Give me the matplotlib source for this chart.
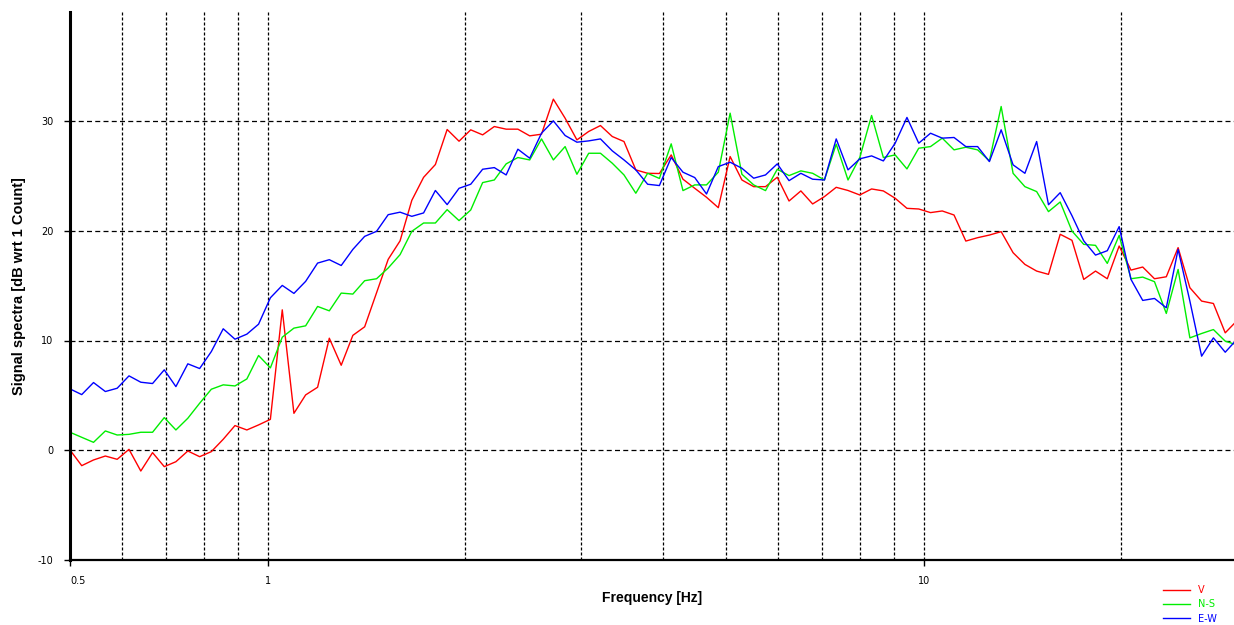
import matplotlib
matplotlib.use("Agg")
import matplotlib.pyplot as plt
from matplotlib.ticker import FixedLocator, NullFormatter

# log-sampled frequency grid (Hz)
freq_hz = [
    0.500, 0.521, 0.543, 0.566, 0.590, 0.615, 0.641, 0.668, 0.696, 0.725,
    0.756, 0.788, 0.821, 0.856, 0.892, 0.930, 0.969, 1.010, 1.053, 1.097,
    1.143, 1.192, 1.242, 1.295, 1.349, 1.406, 1.466, 1.527, 1.592, 1.659,
    1.729, 1.802, 1.878, 1.958, 2.040, 2.127, 2.216, 2.310, 2.407, 2.509,
    2.615, 2.726, 2.841, 2.961, 3.086, 3.216, 3.352, 3.493, 3.641, 3.795,
    3.955, 4.122, 4.296, 4.477, 4.666, 4.863, 5.069, 5.283, 5.506, 5.739,
    5.981, 6.233, 6.497, 6.771, 7.057, 7.355, 7.666, 7.989, 8.327, 8.678,
    9.045, 9.427, 9.825, 10.24, 10.67, 11.12, 11.59, 12.08, 12.59, 13.12,
    13.68, 14.26, 14.86, 15.49, 16.14, 16.82, 17.53, 18.27, 19.04, 19.85,
    20.69, 21.56, 22.47, 23.42, 24.41, 25.44, 26.51, 27.63, 28.80, 30.00,
]

# vertical component
spec_v = [
    0.00, -1.43, -0.91, -0.55, -0.85, 0.06, -1.92, -0.24, -1.52, -1.07,
    -0.09, -0.61, -0.15, 0.98, 2.23, 1.83, 2.29, 2.80, 12.80, 3.35,
    5.03, 5.73, 10.21, 7.74, 10.47, 11.25, 14.36, 17.41, 19.10, 22.80,
    24.90, 26.07, 29.27, 28.20, 29.24, 28.78, 29.54, 29.30, 29.30, 28.69,
    28.84, 32.04, 30.30, 28.32, 29.09, 29.63, 28.63, 28.17, 25.58, 25.27,
    25.25, 26.95, 24.73, 23.90, 23.08, 22.13, 26.80, 24.66, 24.05, 24.05,
    24.91, 22.74, 23.66, 22.47, 23.14, 23.99, 23.70, 23.29, 23.84, 23.66,
    22.99, 22.07, 22.01, 21.68, 21.83, 21.46, 19.08, 19.39, 19.63, 19.94,
    18.02, 16.95, 16.34, 16.04, 19.70, 19.15, 15.58, 16.34, 15.64, 18.63,
    16.43, 16.71, 15.64, 15.82, 18.48, 14.82, 13.60, 13.38, 10.70, 11.80,
]

# north-south component
spec_ns = [
    1.62, 1.16, 0.70, 1.74, 1.37, 1.43, 1.62, 1.62, 2.96, 1.83,
    2.90, 4.27, 5.55, 5.95, 5.85, 6.49, 8.63, 7.50, 10.30, 11.13,
    11.34, 13.11, 12.71, 14.33, 14.24, 15.46, 15.64, 16.62, 17.84, 19.97,
    20.73, 20.73, 21.95, 20.95, 21.92, 24.42, 24.66, 26.13, 26.71, 26.49,
    28.41, 26.49, 27.71, 25.18, 27.10, 27.10, 26.19, 25.12, 23.45, 25.27,
    24.80, 27.96, 23.69, 24.21, 24.21, 25.37, 30.76, 25.18, 24.21, 23.69,
    25.64, 25.06, 25.49, 25.27, 24.66, 27.93, 24.66, 26.71, 30.55, 26.71,
    26.95, 25.67, 27.56, 27.71, 28.48, 27.41, 27.65, 27.41, 26.40, 31.37,
    25.27, 24.05, 23.60, 21.77, 22.65, 20.00, 18.78, 18.69, 17.04, 19.60,
    15.64, 15.79, 15.37, 12.47, 16.49, 10.24, 10.64, 11.00, 9.94, 9.60,
]

# east-west component
spec_ew = [
    5.58, 5.06, 6.16, 5.34, 5.64, 6.77, 6.19, 6.07, 7.32, 5.79,
    7.87, 7.44, 8.99, 11.07, 10.12, 10.58, 11.49, 13.90, 15.03, 14.30,
    15.40, 17.07, 17.38, 16.85, 18.32, 19.51, 19.97, 21.49, 21.72, 21.34,
    21.65, 23.70, 22.41, 23.90, 24.27, 25.64, 25.79, 25.12, 27.47, 26.65,
    28.93, 30.06, 28.72, 28.11, 28.23, 28.41, 27.32, 26.49, 25.58, 24.27,
    24.15, 26.71, 25.37, 24.88, 23.38, 25.88, 26.28, 25.73, 24.82, 25.12,
    26.13, 24.60, 25.27, 24.73, 24.66, 28.41, 25.58, 26.59, 26.86, 26.40,
    28.02, 30.37, 28.02, 28.93, 28.48, 28.54, 27.71, 27.71, 26.34, 29.24,
    26.04, 25.27, 28.17, 22.40, 23.50, 21.40, 19.10, 17.80, 18.20, 20.40,
    15.58, 13.66, 13.84, 12.99, 18.32, 13.60, 8.57, 10.24, 8.93, 10.10,
]

series = [
    ("V", spec_v, "#ff0000"),
    ("N-S", spec_ns, "#00ee00"),
    ("E-W", spec_ew, "#0000ff"),
]

x_major = [0.5, 1, 10]
x_major_labels = ["0.5", "1", "10"]
x_minor = [0.6, 0.7, 0.8, 0.9, 2, 3, 4, 5, 6, 7, 8, 9, 20]
y_ticks = [-10, 0, 10, 20, 30]

fig = plt.figure(figsize=(12.34, 6.25), dpi=100)
ax = fig.add_axes([70 / 1234, 1 - 559.5 / 625, 1 - 70 / 1234, 547.5 / 625])

handles = []
for label, values, color in series:
    (line,) = ax.plot(freq_hz, values, color=color, lw=1.0, label=label)
    handles.append(line)

ax.set_xscale("log")
ax.set_xlim(0.5, 29.7)
ax.set_ylim(-10, 40)

ax.xaxis.set_major_locator(FixedLocator(x_major))
ax.set_xticklabels(x_major_labels)
ax.xaxis.set_minor_locator(FixedLocator(x_minor))
ax.xaxis.set_minor_formatter(NullFormatter())
ax.set_yticks(y_ticks)
ax.set_yticklabels([str(v) for v in y_ticks])

ax.tick_params(axis="both", which="major", labelsize=7, length=4, width=1,
               direction="out", pad=8)
ax.tick_params(axis="x", which="minor", length=0)
ax.get_xticklabels()[0].set_horizontalalignment("left")

# dashed horizontal grid, finer dotted verticals
ax.grid(True, axis="y", which="major", color="black", lw=0.9,
        linestyle=(0, (4, 2.6)))
ax.grid(True, axis="x", which="both", color="black", lw=0.9,
        linestyle=(0, (2.4, 1.6)))
ax.set_axisbelow(True)

ax.spines["top"].set_visible(False)
ax.spines["right"].set_visible(False)
ax.spines["left"].set_linewidth(2.2)
ax.spines["bottom"].set_linewidth(1.6)

ax.set_xlabel("Frequency [Hz]", fontsize=10, fontweight="bold",
              family=["Liberation Sans", "DejaVu Sans"])
ax.xaxis.set_label_coords(0.5, -0.057)
ax.set_ylabel("Signal spectra [dB wrt 1 Count]", fontsize=10.5,
              fontweight="bold", fontstretch="condensed",
              family=["Liberation Sans Narrow", "Liberation Sans"])
ax.yaxis.set_label_coords(-0.038, 0.5)

leg = fig.legend(handles=handles, loc="upper left",
                 bbox_to_anchor=(1163 / 1234, 1 - 585 / 625),
                 frameon=False, fontsize=7, labelcolor="linecolor",
                 handlelength=2.8, handletextpad=0.8, labelspacing=0.45,
                 borderpad=0, borderaxespad=0)

fig.savefig("out.png", dpi=100)
plt.close(fig)
